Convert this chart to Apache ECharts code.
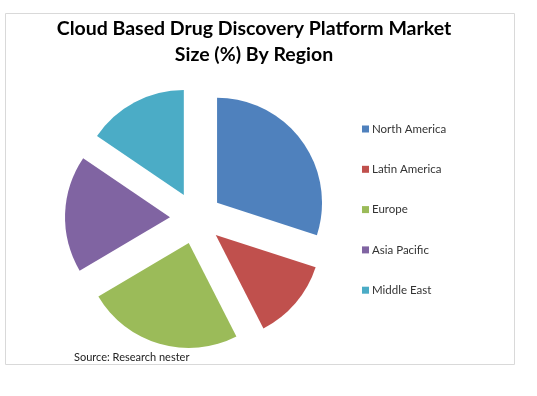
<!DOCTYPE html>
<html>
<head>
<meta charset="utf-8">
<script src="https://cdn.jsdelivr.net/npm/echarts@6/dist/echarts.min.js"></script>
<style>
  html, body { margin: 0; padding: 0; background: #fff; }
  #main { width: 537px; height: 396px; }
</style>
</head>
<body>
<div id="main"></div>
<script>
// 区域 / 占比(%)
const regions = ['North America', 'Latin America', 'Europe', 'Asia Pacific', 'Middle East'];
const shares = [30, 12.5, 24, 18, 15.5];
const colors = ['#4F81BD', '#C0504D', '#9BBB59', '#8064A2', '#4BACC6'];

const chart = echarts.init(document.getElementById('main'));

let pieData = [];
for (let i = 0; i < regions.length; i++) {
  pieData.push({
    name: regions[i],
    value: shares[i],
    selected: true,
    itemStyle: { color: colors[i] }
  });
}

chart.setOption({
  animation: false,
  title: {
    text: 'Cloud Based Drug Discovery Platform Market\nSize (%) By Region',
    left: 249,
    top: 11,
    textAlign: 'center',
    textStyle: {
      fontFamily: 'Lato',
      fontWeight: 'bold',
      fontSize: 19.5,
      lineHeight: 26,
      color: '#000'
    }
  },
  legend: {
    orient: 'vertical',
    left: 357,
    top: 118,
    itemWidth: 7,
    itemHeight: 7,
    itemGap: 28.3,
    icon: 'rect',
    selectedMode: false,
    textStyle: { fontFamily: 'Lato', fontSize: 11.5, color: '#333', padding: [0, 0, 0, -2] },
    data: regions
  },
  graphic: [
    {
      type: 'rect',
      shape: { x: 5.5, y: 13.5, width: 509, height: 351 },
      style: { fill: 'none', stroke: '#d9d9d9', lineWidth: 1 },
      silent: true
    },
    {
      type: 'text',
      left: 74,
      top: 352,
      style: { text: 'Source: Research nester', font: '11px Lato', fill: '#222' },
      silent: true
    }
  ],
  series: [{
    type: 'pie',
    center: [196, 218],
    radius: 105,
    startAngle: 90,
    clockwise: true,
    selectedMode: 'multiple',
    selectedOffset: 26,
    label: { show: false },
    labelLine: { show: false },
    emphasis: { disabled: true },
    select: { itemStyle: {} },
    data: pieData
  }]
});
</script>
</body>
</html>
